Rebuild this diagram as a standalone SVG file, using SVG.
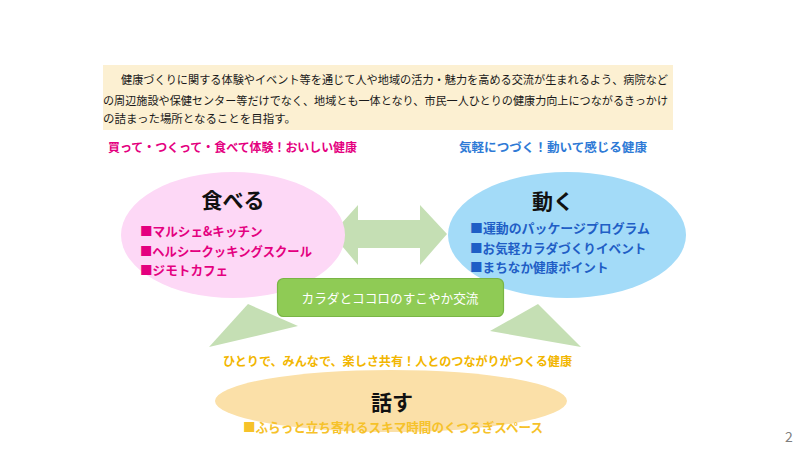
<svg xmlns="http://www.w3.org/2000/svg" width="800" height="450" viewBox="0 0 800 450">
  <style>
    text { font-family: "Noto Sans CJK JP", "Noto Sans", sans-serif; }
    .body { font-size: 11.8px; fill: #1A1A1A; }
    .sub { font-size: 12px; font-weight: bold; }
    .title { font-size: 21px; font-weight: bold; fill: #111111; text-anchor: middle; }
    .item { font-size: 12.6px; font-weight: bold; }
    .pink { fill: #E4007F; }
    .blue { fill: #1F5EC6; }
    .bluesub { fill: #2E7AD6; }
    .yel { fill: #F2B600; }
    .yel2 { fill: #F6C22A; }
    .conn { fill: #C5DFB4; }
  </style>
  <rect width="800" height="450" fill="#FFFFFF"/>

  <g id="intro">
    <rect x="103" y="65" width="570" height="65" fill="#FCF0D2"/>
    <text class="body" x="121" y="84" textLength="547" lengthAdjust="spacingAndGlyphs">健康づくりに関する体験やイベント等を通じて人や地域の活力・魅力を高める交流が生まれるよう、病院など</text>
    <text class="body" x="103" y="105" textLength="565" lengthAdjust="spacingAndGlyphs">の周辺施設や保健センター等だけでなく、地域とも一体となり、市民一人ひとりの健康力向上につながるきっかけ</text>
    <text class="body" x="103" y="123" textLength="193" lengthAdjust="spacingAndGlyphs">の詰まった場所となることを目指す。</text>
  </g>

  <g id="connectors">
    <polygon class="conn" points="332,234 358,205 358,220 420,220 420,205 447,234 420,265 420,248 358,248 358,265"/>
    <polygon class="conn" points="248,304 298,326 209,347"/>
    <polygon class="conn" points="538,304 581,347 490,331"/>
  </g>

  <g id="taberu">
    <text class="sub pink" x="108" y="152" textLength="249" lengthAdjust="spacingAndGlyphs">買って・つくって・食べて体験！おいしい健康</text>
    <ellipse cx="233" cy="235" rx="112" ry="63" fill="#FDD8F6"/>
    <text class="title" x="233" y="208">食べる</text>
    <text class="item pink" x="140" y="236">■マルシェ&amp;キッチン</text>
    <text class="item pink" x="140" y="256" textLength="172" lengthAdjust="spacingAndGlyphs">■ヘルシークッキングスクール</text>
    <text class="item pink" x="140" y="275">■ジモトカフェ</text>
  </g>

  <g id="ugoku">
    <text class="sub bluesub" x="459" y="152" textLength="188" lengthAdjust="spacingAndGlyphs">気軽につづく！動いて感じる健康</text>
    <ellipse cx="567" cy="235" rx="119" ry="63" fill="#A3DBF8"/>
    <text class="title" x="553" y="209">動く</text>
    <text class="item blue" x="470" y="233" textLength="180" lengthAdjust="spacingAndGlyphs">■運動のパッケージプログラム</text>
    <text class="item blue" x="470" y="253">■お気軽カラダづくりイベント</text>
    <text class="item blue" x="470" y="272">■まちなか健康ポイント</text>
  </g>

  <g id="koryu">
    <rect x="277.5" y="278.5" width="226" height="38" rx="6" ry="6" fill="#8FCB55" stroke="#79B545" stroke-width="1.2"/>
    <text x="390" y="303" font-size="12.6" fill="#FFFFFF" text-anchor="middle" textLength="177" lengthAdjust="spacingAndGlyphs">カラダとココロのすこやか交流</text>
  </g>

  <g id="hanasu">
    <text class="sub yel" x="223" y="366" textLength="349" lengthAdjust="spacingAndGlyphs">ひとりで、みんなで、楽しさ共有！人とのつながりがつくる健康</text>
    <ellipse cx="391" cy="401" rx="176" ry="31" fill="#FBE0A8"/>
    <text class="title" x="392" y="410">話す</text>
    <text class="item yel2" x="243" y="432" textLength="300" lengthAdjust="spacingAndGlyphs">■ふらっと立ち寄れるスキマ時間のくつろぎスペース</text>
  </g>

  <text x="789" y="442" font-family="Liberation Sans, sans-serif" font-size="14" fill="#7F7F7F" text-anchor="middle">2</text>
</svg>
